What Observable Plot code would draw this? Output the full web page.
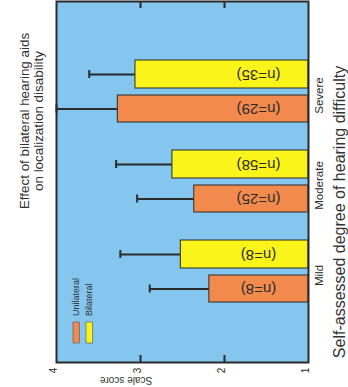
<!DOCTYPE html>
<html>
<head>
<meta charset="utf-8">
<script src="https://cdn.jsdelivr.net/npm/d3@7"></script>
<script src="https://cdn.jsdelivr.net/npm/@observablehq/plot@0.6"></script>
<style>
  html, body { margin: 0; padding: 0; background: #fff; }
  #chart { position: relative; width: 348px; height: 387px; overflow: hidden; }
  svg { font-family: "Liberation Sans", Arial, sans-serif; }
</style>
</head>
<body>
<div id="chart"></div>
<script>
// ---- data ----
const categories = ["Severe", "Moderate", "Mild"];
const unilateral = [3.27, 2.36, 2.18];
const unilateralUpper = [4.0, 3.04, 2.89];
const unilateralN = [29, 25, 8];
const bilateral = [3.06, 2.62, 2.52];
const bilateralUpper = [3.61, 3.29, 3.24];
const bilateralN = [35, 58, 8];
const tickValues = [1, 2, 3, 4];
const innerTicks = [2, 3];
const xDomain = [4, 1];
const baseline = 1;

const titleLines = ["Effect of bilateral hearing aids", "on localization disability"];
const xLabel = "Self-assessed degree of hearing difficulty";
const yLabel = "Scale score";
const seriesNames = ["Unilateral", "Bilateral"];

// ---- styles ----
const cBg = "#84c6ee", cOrange = "#f28a4e", cYellow = "#fbf41a", cInk = "#2b2b2b";

const uniData = categories.map((c, i) => ({category: c, value: unilateral[i], upper: unilateralUpper[i], n: unilateralN[i]}));
const biData = categories.map((c, i) => ({category: c, value: bilateral[i], upper: bilateralUpper[i], n: bilateralN[i]}));

const plot = Plot.plot({
  width: 348,
  height: 387,
  marginLeft: 56,
  marginRight: 40,
  marginTop: 1,
  marginBottom: 25,
  style: {background: "#fff", fontFamily: "Liberation Sans, Arial, sans-serif"},
  x: {domain: xDomain, axis: null},
  y: {type: "band", domain: categories, paddingInner: 0.311, paddingOuter: 0.661, axis: null},
  marks: [
    Plot.frame({fill: cBg, stroke: null}),
    // error bars
    Plot.ruleY(biData, {y: "category", x1: "value", x2: "upper", dy: -17, stroke: cInk, strokeWidth: 2}),
    Plot.tickX(biData, {x: "upper", y: "category", insetTop: 10, insetBottom: 44, stroke: cInk, strokeWidth: 2}),
    Plot.ruleY(uniData, {y: "category", x1: "value", x2: "upper", dy: 17.5, stroke: cInk, strokeWidth: 2}),
    Plot.tickX(uniData, {x: "upper", y: "category", insetTop: 44.5, insetBottom: 9.5, stroke: cInk, strokeWidth: 2}),
    // bars
    Plot.barX(biData, {y: "category", x1: baseline, x2: "value", insetBottom: 34, fill: cYellow, stroke: cInk, strokeWidth: 1}),
    Plot.barX(uniData, {y: "category", x1: baseline, x2: "value", insetTop: 35, fill: cOrange, stroke: cInk, strokeWidth: 1}),
    // n labels (upside down)
    Plot.text(biData, {y: "category", text: d => `(n=${d.n})`, frameAnchor: "right", textAnchor: "middle", dx: -50, dy: -17, rotate: 180, fontSize: 15, fill: cInk}),
    Plot.text(uniData, {y: "category", text: d => `(n=${d.n})`, frameAnchor: "right", textAnchor: "middle", dx: -50, dy: 17.5, rotate: 180, fontSize: 15, fill: cInk}),
    // inward ticks bottom and top
    Plot.tickX(innerTicks, {x: d => d, insetTop: 354, stroke: cInk, strokeWidth: 2}),
    Plot.tickX(innerTicks, {x: d => d, insetBottom: 354, stroke: cInk, strokeWidth: 2}),
    // tick labels
    Plot.text(tickValues, {x: d => d, text: d => String(d), frameAnchor: "bottom", textAnchor: "middle", dy: 8, rotate: -90, fontSize: 10, fill: cInk}),
    // category labels
    Plot.text(categories, {y: d => d, text: d => d, frameAnchor: "right", textAnchor: "middle", dx: 11, dy: 4, rotate: -90, fontSize: 11.5, fill: cInk}),
    Plot.frame({stroke: cInk, strokeWidth: 2})
  ]
});

document.getElementById("chart").appendChild(plot);

const svg = d3.select(plot);
// Title (rotated)
const title = svg.append("g").attr("fill", "#333").attr("font-size", 13.4).attr("text-anchor", "middle");
title.append("text").attr("transform", "translate(24,121) rotate(-90)").attr("dominant-baseline", "central").text(titleLines[0]);
title.append("text").attr("transform", "translate(38,121) rotate(-90)").attr("dominant-baseline", "central").text(titleLines[1]);

// x-label (right side)
svg.append("text").attr("transform", "translate(339,212) rotate(-90)")
  .attr("text-anchor", "middle").attr("dominant-baseline", "central")
  .attr("font-size", 16).attr("fill", "#333").text(xLabel);

// y-label (bottom, upside down)
svg.append("text").attr("transform", "translate(126,377) rotate(180)")
  .attr("text-anchor", "middle").attr("font-size", 10).attr("fill", "#333").text(yLabel);

// Legend
const lg = svg.append("g");
const swatchColors = [cOrange, cYellow];
const swatchX = [73, 86];
seriesNames.forEach((name, i) => {
  lg.append("rect").attr("x", swatchX[i]).attr("y", 322).attr("width", 6.5).attr("height", 21)
    .attr("fill", swatchColors[i]).attr("stroke", "#555").attr("stroke-width", 0.6);
  lg.append("text").attr("transform", `translate(${swatchX[i] + 3.25},316) rotate(-90)`)
    .attr("text-anchor", "start")
    .attr("dominant-baseline", "central").attr("font-size", 9).attr("fill", "#333").text(name);
});
</script>
</body>
</html>
